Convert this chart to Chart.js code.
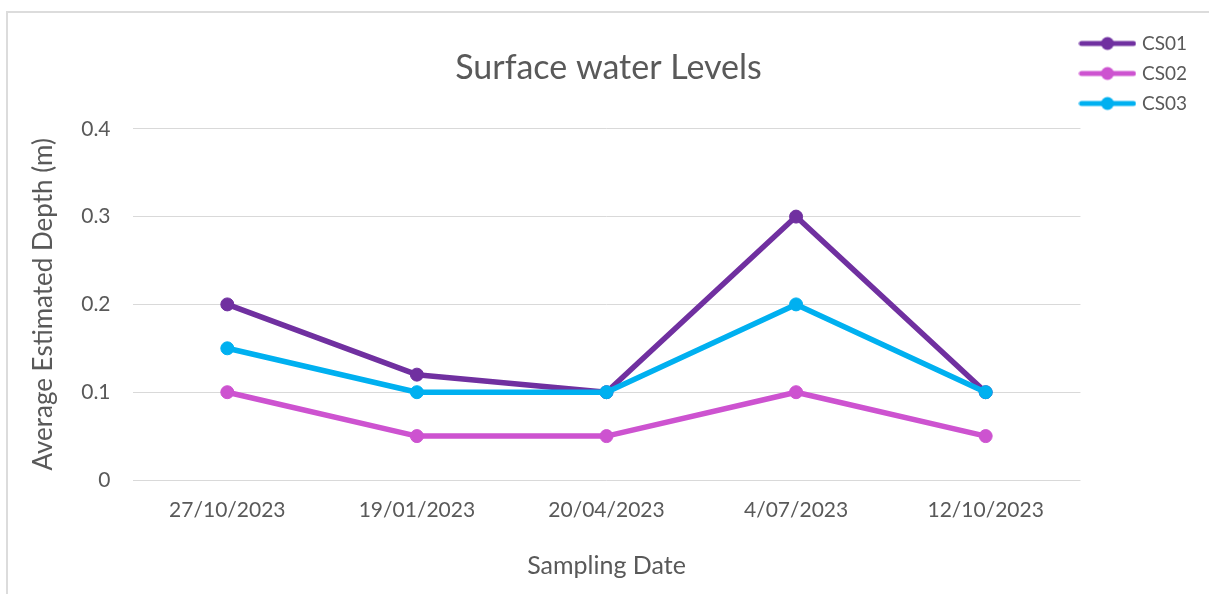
<!DOCTYPE html>
<html>
<head>
<meta charset="utf-8">
<script src="https://cdn.jsdelivr.net/npm/chart.js@4"></script>
<style>
  body { margin: 0; background: #fff; overflow: hidden; }
  #box {
    position: absolute; left: 6px; top: 11px;
    border-left: 2px solid #dcdcdc; border-top: 2px solid #dcdcdc;
  }
  canvas { display: block; }
</style>
</head>
<body>
<div id="box"><canvas id="waterChart" width="1201" height="581"></canvas></div>
<script>
// sampling dates (categories)
const samplingDates = ['27/10/2023', '19/01/2023', '20/04/2023', '4/07/2023', '12/10/2023'];

// average estimated depth (m) per site
const cs01 = [0.2, 0.12, 0.1, 0.3, 0.1];
const cs02 = [0.1, 0.05, 0.05, 0.1, 0.05];
const cs03 = [0.15, 0.1, 0.1, 0.2, 0.1];

const seriesNames = ['CS01', 'CS02', 'CS03'];
const seriesColors = ['#7030A0', '#CD53D0', '#00B0F0'];

const fontFamily = 'Lato, "Open Sans", sans-serif';
const textGrey = '#595959';

// legend marker: line with a dot in the middle
function legendMarker(color) {
  const c = document.createElement('canvas');
  c.width = 58;
  c.height = 16;
  const g = c.getContext('2d');
  g.strokeStyle = color;
  g.lineWidth = 5;
  g.lineCap = 'round';
  g.beginPath();
  g.moveTo(3, 8);
  g.lineTo(55, 8);
  g.stroke();
  g.fillStyle = color;
  g.beginPath();
  g.arc(29, 8, 6.5, 0, Math.PI * 2);
  g.fill();
  return c;
}

function makeDataset(i, values) {
  return {
    label: seriesNames[i],
    data: values,
    borderColor: seriesColors[i],
    backgroundColor: seriesColors[i],
    pointBackgroundColor: seriesColors[i],
    pointBorderColor: seriesColors[i],
    borderWidth: 5.5,
    pointRadius: 6.5,
    pointBorderWidth: 1,
    tension: 0,
    borderCapStyle: 'round',
    borderJoinStyle: 'round',
    order: 3 - i
  };
}

// move the legend a little to the left, onto the plot edge
const legendShift = {
  id: 'legendShift',
  afterLayout(chart) {
    chart.legend.left -= 9;
    chart.legend.right -= 9;
  }
};

const ctx = document.getElementById('waterChart').getContext('2d');
const waterChart = new Chart(ctx, {
  type: 'line',
  data: {
    labels: samplingDates,
    datasets: [makeDataset(0, cs01), makeDataset(1, cs02), makeDataset(2, cs03)]
  },
  options: {
    responsive: false,
    animation: false,
    layout: { padding: { top: 10, left: 3, right: 3, bottom: 13 } },
    plugins: {
      title: {
        display: true,
        text: 'Surface water Levels',
        color: textGrey,
        font: { family: fontFamily, size: 34, weight: 'normal' },
        padding: { top: 25, bottom: 40 }
      },
      legend: {
        position: 'right',
        align: 'start',
        labels: {
          color: textGrey,
          font: { family: fontFamily, size: 19 },
          usePointStyle: true,
          pointStyleWidth: 50,
          padding: 11,
          generateLabels(chart) {
            return chart.data.datasets.map((ds, i) => ({
              text: ds.label,
              pointStyle: legendMarker(seriesColors[i]),
              fillStyle: seriesColors[i],
              strokeStyle: seriesColors[i],
              lineWidth: 0,
              hidden: false,
              datasetIndex: i,
              fontColor: textGrey
            }));
          }
        }
      },
      tooltip: { enabled: false }
    },
    scales: {
      x: {
        offset: true,
        grid: { display: false, drawTicks: false },
        border: { display: false },
        ticks: {
          color: textGrey,
          font: { family: fontFamily, size: 21 },
          padding: 18,
          maxRotation: 0
        },
        title: {
          display: true,
          text: 'Sampling Date',
          color: textGrey,
          font: { family: fontFamily, size: 25 },
          padding: { top: 9.8, bottom: 0 }
        }
      },
      y: {
        min: 0,
        max: 0.4,
        grid: { color: '#d9d9d9', lineWidth: 1, drawTicks: false },
        border: { display: false },
        ticks: {
          stepSize: 0.1,
          color: textGrey,
          font: { family: fontFamily, size: 21 },
          padding: 22
        },
        title: {
          display: true,
          text: 'Average Estimated Depth (m)',
          color: textGrey,
          font: { family: fontFamily, size: 26 },
          padding: { top: 17, bottom: 0 }
        }
      }
    }
  },
  plugins: [legendShift]
});
</script>
</body>
</html>
